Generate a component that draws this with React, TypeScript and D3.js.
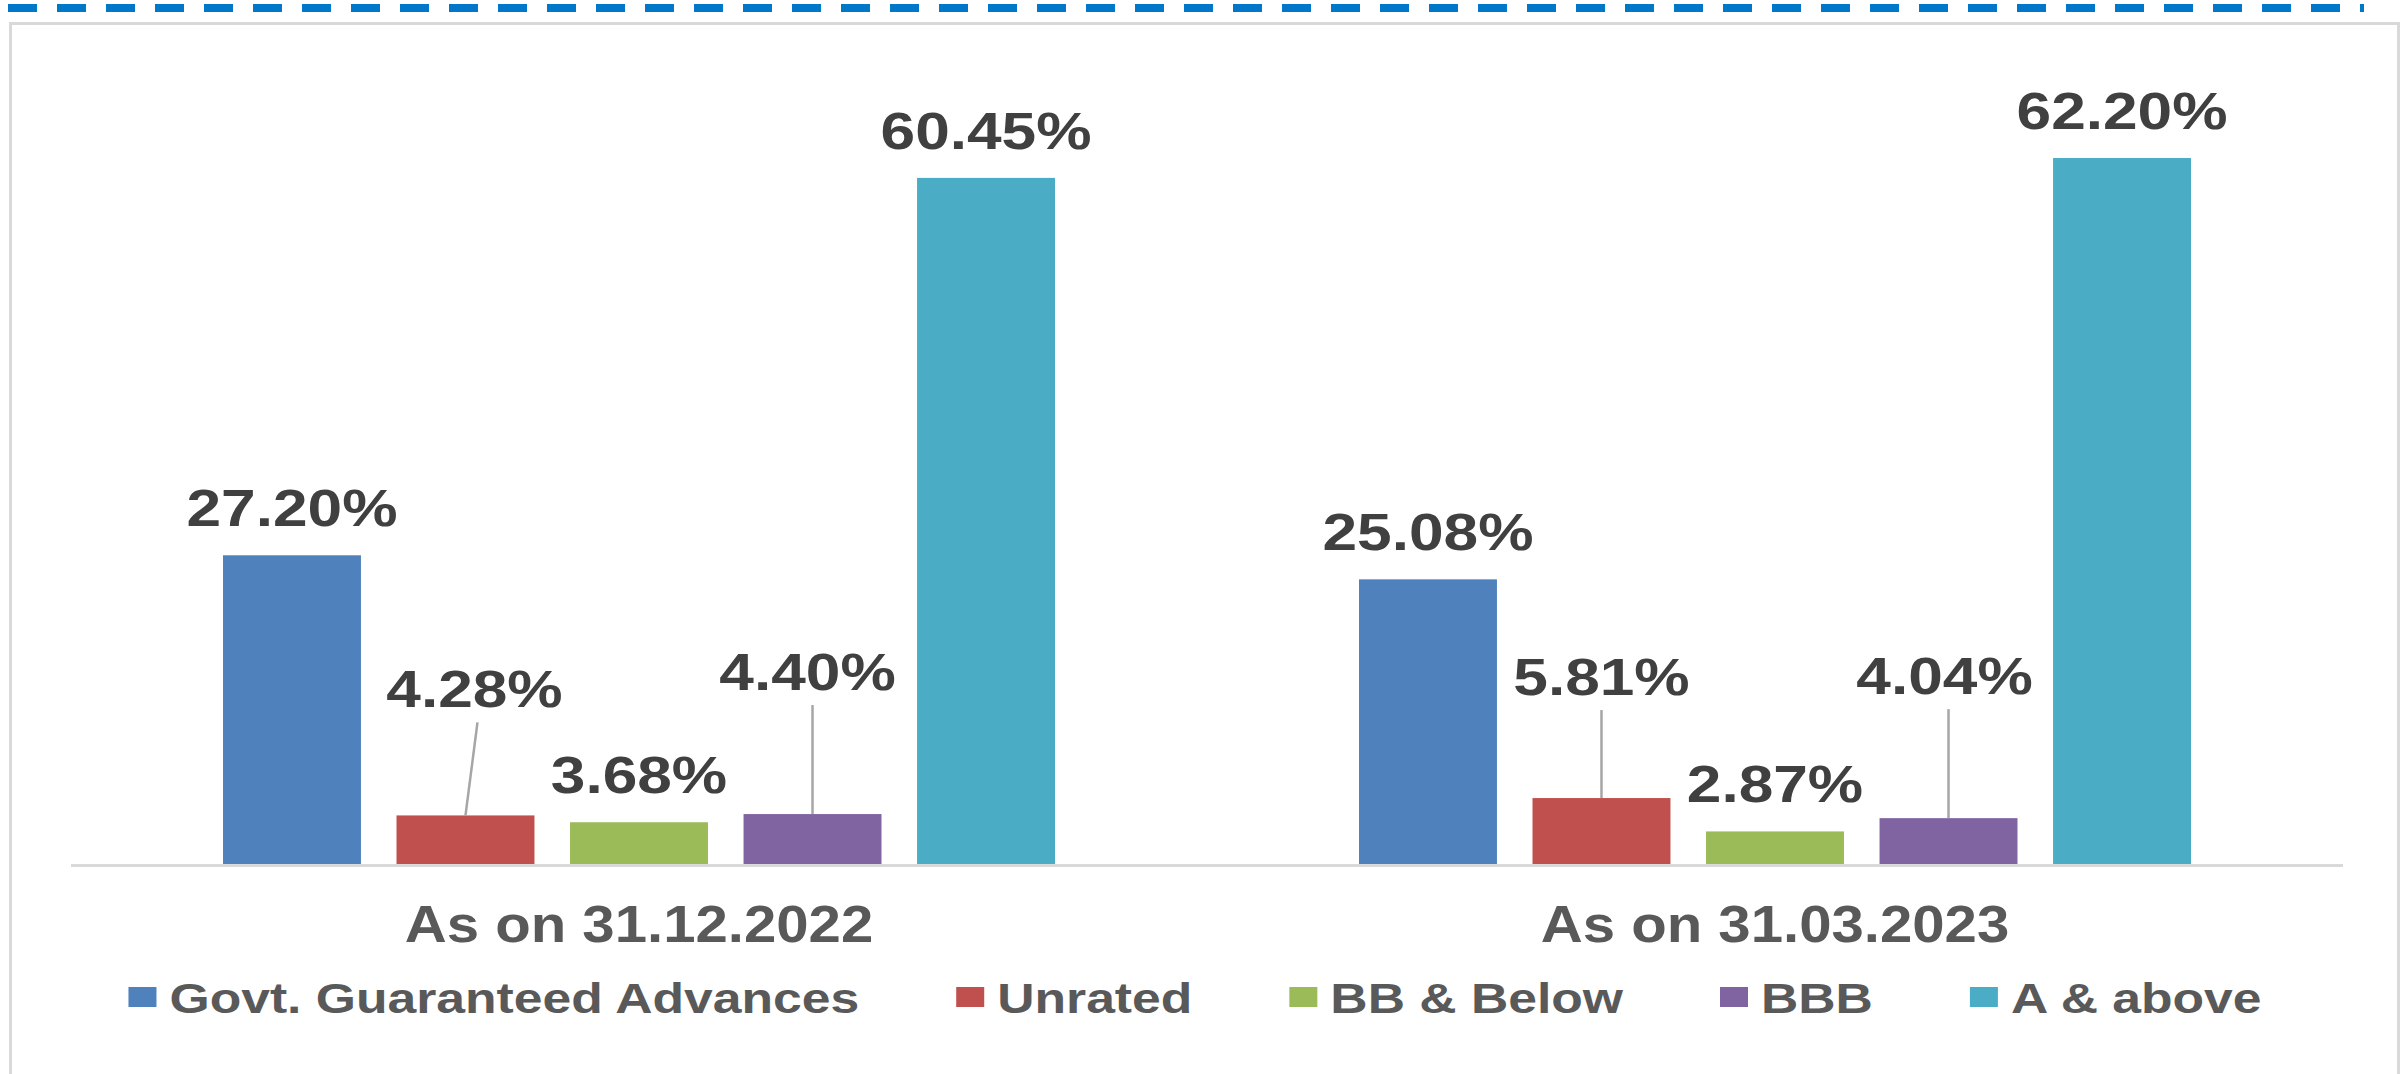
import React, { useEffect, useRef } from 'react'
import * as d3 from 'd3'

// categories on the x axis
const categories = ['As on 31.12.2022', 'As on 31.03.2023']

// series (legend order)
const seriesNames = ['Govt. Guaranteed Advances', 'Unrated', 'BB & Below', 'BBB', 'A & above']
const seriesColors = ['#4F81BD', '#C0504D', '#9BBB59', '#8064A2', '#4BACC6']

// values in %, one array per date
const dec2022 = [27.2, 4.28, 3.68, 4.4, 60.45]
const mar2023 = [25.08, 5.81, 2.87, 4.04, 62.2]

const W = 2407
const H = 1074
const FONT = "'Liberation Sans', Arial, sans-serif"

// manually moved data labels (like Excel does it), with a leader line
const movedLabels: Record<string, { dx: number; lift: number; ldx: number }> = {
  '0-1': { dx: 9, lift: 79, ldx: 12 },
  '0-3': { dx: -5, lift: 95, ldx: 0 },
  '1-1': { dx: 0, lift: 74, ldx: 0 },
  '1-3': { dx: -4, lift: 95, ldx: 0 }
}

const App = () => {
  const svgRef = useRef<SVGSVGElement>(null)

  useEffect(() => {
    const svg = d3.select(svgRef.current)
    svg.selectAll('*').remove()

    const table = categories.map((c, i) => ({
      category: c,
      values: (i === 0 ? dec2022 : mar2023).map((v, j) => ({ series: seriesNames[j], value: v, j }))
    }))

    const x0 = d3.scaleBand().domain(categories).range([71, 2343]).padding(0)
    const x1 = d3
      .scaleBand()
      .domain(seriesNames)
      .range([0, x0.bandwidth()])
      .paddingInner(0.205)
      .paddingOuter(0.876)
    const y = d3.scaleLinear().domain([0, 70]).range([864, 69.5])
    const color = d3.scaleOrdinal<string, string>().domain(seriesNames).range(seriesColors)
    const fmt = (v: number) => d3.format('.2f')(v) + '%'

    svg.append('rect').attr('width', W).attr('height', H).attr('fill', '#fff')

    // dashed rule at the very top
    svg
      .append('line')
      .attr('x1', 8)
      .attr('x2', 2364)
      .attr('y1', 8)
      .attr('y2', 8)
      .attr('stroke', '#0077C8')
      .attr('stroke-width', 8)
      .attr('stroke-dasharray', '29 20')

    // chart area border
    svg
      .append('rect')
      .attr('x', 10.5)
      .attr('y', 23.5)
      .attr('width', 2388)
      .attr('height', 1200)
      .attr('fill', 'none')
      .attr('stroke', '#D9D9D9')
      .attr('stroke-width', 3)

    const groups = svg
      .selectAll('g.cat')
      .data(table)
      .enter()
      .append('g')
      .attr('class', 'cat')
      .attr('transform', d => `translate(${x0(d.category)},0)`)

    groups
      .selectAll('rect')
      .data(d => d.values)
      .enter()
      .append('rect')
      .attr('x', d => x1(d.series)!)
      .attr('y', d => y(d.value))
      .attr('width', x1.bandwidth())
      .attr('height', d => y(0) - y(d.value))
      .attr('fill', d => color(d.series))

    // axis line
    svg
      .append('line')
      .attr('x1', 71)
      .attr('x2', 2343)
      .attr('y1', 865.5)
      .attr('y2', 865.5)
      .attr('stroke', '#D9D9D9')
      .attr('stroke-width', 3)

    // data labels + leader lines
    table.forEach((g, gi) => {
      const gx = x0(g.category)!
      g.values.forEach(d => {
        const cx = gx + x1(d.series)! + x1.bandwidth() / 2
        const top = y(d.value)
        const m = movedLabels[`${gi}-${d.j}`]
        const lx = cx + (m ? m.dx : 0)
        const ly = top - 29 - (m ? m.lift : 0)
        if (m) {
          svg
            .append('line')
            .attr('x1', cx)
            .attr('y1', top)
            .attr('x2', cx + m.ldx)
            .attr('y2', ly + 15)
            .attr('stroke', '#A6A6A6')
            .attr('stroke-width', 2.5)
        }
        svg
          .append('text')
          .attr('transform', `translate(${lx},${ly}) scale(1.22,1)`)
          .attr('text-anchor', 'middle')
          .attr('font-family', FONT)
          .attr('font-weight', 'bold')
          .attr('font-size', 51)
          .attr('fill', '#404040')
          .text(fmt(d.value))
      })
    })

    // category labels
    svg
      .selectAll('text.cat')
      .data(categories)
      .enter()
      .append('text')
      .attr('class', 'cat')
      .attr('transform', d => `translate(${x0(d)! + x0.bandwidth() / 2},942) scale(1.14,1)`)
      .attr('text-anchor', 'middle')
      .attr('font-family', FONT)
      .attr('font-weight', 'bold')
      .attr('font-size', 51)
      .attr('fill', '#595959')
      .text(d => d)

    // legend
    const sx = 1.23
    const legend = svg.append('g')
    let cursor = 0
    seriesNames.forEach((s, i) => {
      const item = legend.append('g').attr('transform', `translate(${cursor},0)`)
      item
        .append('rect')
        .attr('x', 0)
        .attr('y', 987)
        .attr('width', 28)
        .attr('height', 20)
        .attr('fill', seriesColors[i])
      const t = item
        .append('text')
        .attr('transform', `translate(41,1013) scale(${sx},1)`)
        .attr('font-family', FONT)
        .attr('font-weight', 'bold')
        .attr('font-size', 42)
        .attr('fill', '#595959')
        .text(s)
      const tw = (t.node() as SVGTextElement).getComputedTextLength() * sx
      cursor += 41 + tw + 97
    })
    const total = cursor - 97
    legend.attr('transform', `translate(${1195 - total / 2},0)`)
  }, [])

  return (
    <svg
      ref={svgRef}
      width={W}
      height={H}
      style={{ position: 'absolute', left: 0, top: 0, display: 'block' }}
    ></svg>
  )
}

export default App
